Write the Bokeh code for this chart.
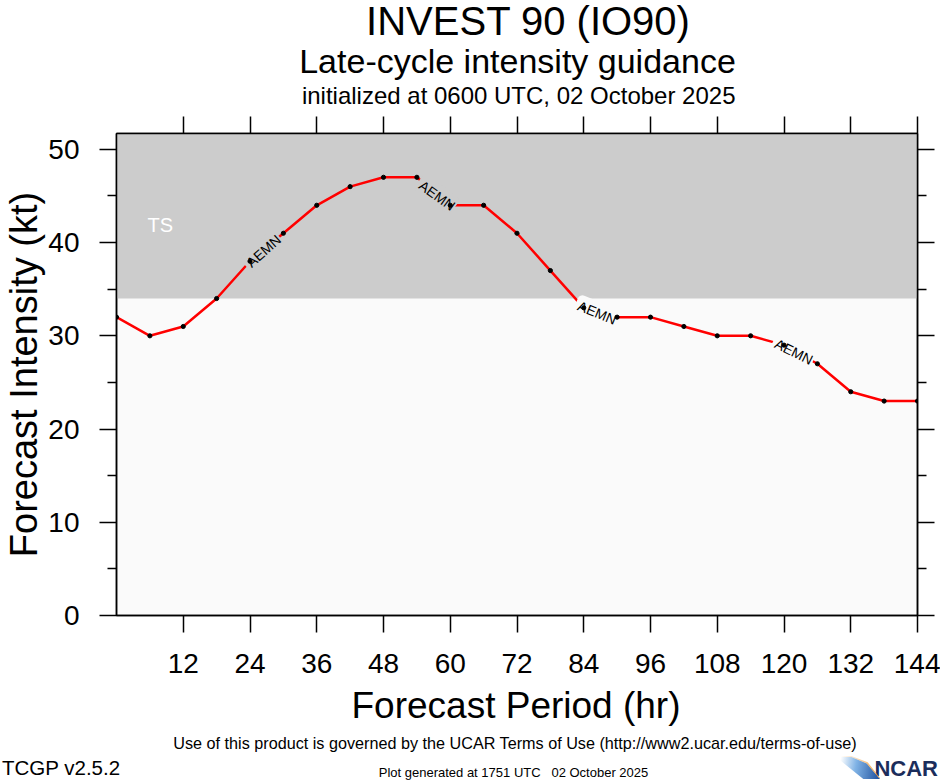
import math
import numpy as np
from bokeh.plotting import figure
from bokeh.models import (Label, BoxAnnotation, LinearAxis, FixedTicker,
                          Range1d, Div)
from bokeh.layouts import column
from bokeh.core.properties import value
from bokeh.embed import file_html
from bokeh.resources import INLINE

# ---------------- data ----------------
hours = [0, 6, 12, 18, 24, 30, 36, 42, 48, 54, 60, 66, 72, 78, 84, 90,
         96, 102, 108, 114, 120, 126, 132, 138, 144]
aemn = [32, 30, 31, 34, 38, 41, 44, 46, 47, 47, 44, 44, 41, 37, 33, 32,
        32, 31, 30, 30, 29, 27, 24, 23, 23]
model_name = "AEMN"
label_hours = [26.2, 57.6, 86.3, 121.7]
ts_threshold = 34
ts_name = "TS"
x_ticks = [12, 24, 36, 48, 60, 72, 84, 96, 108, 120, 132, 144]
y_ticks = [0, 10, 20, 30, 40, 50]
y_minor = [5, 15, 25, 35, 45]
x_min, x_max = 0, 144
y_min, y_max = 0, 51.7

title1 = "INVEST 90 (IO90)"
title2 = "Late-cycle intensity guidance"
title3 = "initialized at 0600 UTC, 02 October 2025"
xlabel = "Forecast Period (hr)"
ylabel = "Forecast Intensity (kt)"
terms = "Use of this product is governed by the UCAR Terms of Use (http://www2.ucar.edu/terms-of-use)"
generated = "Plot generated at 1751 UTC&nbsp;&nbsp; 02 October 2025"
version = "TCGP v2.5.2"
logo = "NCAR"

# ---------------- layout (page pixels) ----------------
W = 940
TOP_H = 110          # header block
FIG_END = 686        # page y where the figure ends
BOT_H = 780 - FIG_END
FIG_H = FIG_END - TOP_H
FL, FR, FT, FB = 116, 917, 133, 615
PX_X = (FR - FL) / (x_max - x_min)
PX_Y = (FB - FT) / (y_max - y_min)
FONT = "Liberation Sans"
ASC = 0.8465  # baseline offset (in em) inside a line box of line-height 1em

p = figure(width=W, height=FIG_H, x_range=Range1d(x_min, x_max),
           y_range=Range1d(y_min, y_max), output_backend="svg",
           toolbar_location=None, title=None, x_axis_type=None, y_axis_type=None,
           min_border_left=FL, min_border_right=W - FR,
           min_border_top=FT - TOP_H, min_border_bottom=FIG_END - FB)
p.background_fill_color = "#FAFAFA"
p.border_fill_color = "white"
p.outline_line_color = "black"
p.outline_line_width = 1.5
p.grid.visible = False


def style_axis(ax, tick_out, minor_out, labels, standoff=0):
    ax.axis_line_color = "black"
    ax.axis_line_width = 1.5
    ax.major_tick_line_color = "black"
    ax.major_tick_line_width = 1.5
    ax.minor_tick_line_color = "black"
    ax.minor_tick_line_width = 1.5
    ax.major_tick_in = 0
    ax.major_tick_out = tick_out
    ax.minor_tick_in = 0
    ax.minor_tick_out = minor_out
    if labels:
        ax.major_label_text_font = FONT
        ax.major_label_text_font_size = "28px"
        ax.major_label_text_color = "black"
        ax.major_label_standoff = standoff
    else:
        ax.major_label_overrides = {t: "" for t in ax.ticker.ticks}
        ax.major_label_text_font_size = "1px"
        ax.major_label_standoff = 0


xb = LinearAxis(ticker=FixedTicker(ticks=x_ticks))
style_axis(xb, 17, 0, True, 21)
p.add_layout(xb, "below")
xt = LinearAxis(ticker=FixedTicker(ticks=x_ticks))
style_axis(xt, 17, 0, False)
p.add_layout(xt, "above")
yl = LinearAxis(ticker=FixedTicker(ticks=y_ticks, minor_ticks=y_minor))
style_axis(yl, 17, 9, True, 20)
yl.axis_label = ylabel
yl.axis_label_text_font = FONT
yl.axis_label_text_font_size = "38px"
yl.axis_label_text_font_style = "normal"
yl.axis_label_text_color = "black"
yl.axis_label_standoff = 0
p.add_layout(yl, "left")
yr = LinearAxis(ticker=FixedTicker(ticks=y_ticks, minor_ticks=y_minor))
style_axis(yr, 17, 9, False)
p.add_layout(yr, "right")

# TS band
p.add_layout(BoxAnnotation(bottom=ts_threshold, fill_color="#CCCCCC",
                           fill_alpha=1.0, line_color=None, level="underlay"))
p.add_layout(Label(x=(147 - FL) / PX_X, y=(FB - 224) / PX_Y, text=ts_name,
                   text_color="white", text_font=FONT, text_font_size="20px",
                   text_align="left", text_baseline="alphabetic"))

# model line
p.line(hours, aemn, line_color="red", line_width=2.5)

# in-line model labels
lab_y = list(np.interp(label_hours, hours, aemn))
half = 3.3
angles = []
for h in label_hours:
    y1 = np.interp(h - half, hours, aemn)
    y2 = np.interp(h + half, hours, aemn)
    angles.append(math.atan2((y2 - y1) * PX_Y, 2 * half * PX_X))
bgs = ["#CCCCCC" if yv >= ts_threshold else "#FAFAFA" for yv in lab_y]
p.text(x=label_hours, y=lab_y, text=[model_name] * len(label_hours),
       angle=angles, text_align="center", text_baseline="middle",
       text_font=value(FONT), text_font_size="14px", text_color="black",
       background_fill_color=bgs, padding=[3, 1, 3, 1], border_radius=5)

p.scatter(hours, aemn, size=4.2, color="black")


# ---------------- header / footer text blocks ----------------
def span(x, baseline, text, size, align="center", color="black", weight="normal"):
    shift = {"center": "-50%", "left": "0", "right": "-100%"}[align]
    top = baseline - ASC * size
    return (f'<div style="position:absolute;left:{x}px;top:{top:.1f}px;'
            f'transform:translateX({shift});white-space:nowrap;'
            f"font-family:'{FONT}';font-size:{size}px;line-height:{size}px;"
            f'color:{color};font-weight:{weight};">{text}</div>')


def block(h, items, extra=""):
    return (f'<div style="position:relative;width:{W}px;height:{h}px;'
            f'overflow:visible;">' + "".join(items) + extra + "</div>")


header = Div(text=block(TOP_H, [
    span(528, 35, title1, 40),
    span(517.5, 72.5, title2, 34),
    span(518.7, 104, title3, 24),
]), width=W, height=TOP_H, margin=0)

o = FIG_END
swoosh = ('<div style="position:absolute;left:836px;top:' + f"{757 - o}" +
          'px;width:44px;height:22px;'
          'background:linear-gradient(100deg,rgba(255,255,255,0) 10%,#7fb2e5 45%,#1d4f9c 100%);'
          'clip-path:polygon(0% 0%,35% 0%,70% 30%,100% 100%,62% 100%);"></div>'
          '<div style="position:absolute;left:836px;top:' + f"{756 - o}" +
          'px;width:44px;height:22px;'
          'background:linear-gradient(100deg,rgba(255,255,255,0) 10%,#f0a040 100%);'
          'clip-path:polygon(0% 0%,35% 0%,72% 28%,100% 100%,98% 100%,69% 33%,35% 5%,0% 5%);"></div>')
footer = Div(text=block(BOT_H, [
    span(516, 718 - o, xlabel, 37),
    span(515, 748.7 - o, terms, 16.2),
    span(513.5, 777 - o, generated, 13),
    span(2, 775 - o, version, 20.5, align="left"),
    span(938, 777 - o, logo, 22, align="right", color="#1b2d5b", weight="bold"),
], swoosh), width=W, height=BOT_H, margin=0)

page = column(header, p, footer, spacing=0)

open("out.html", "w").write(file_html(page, INLINE))
